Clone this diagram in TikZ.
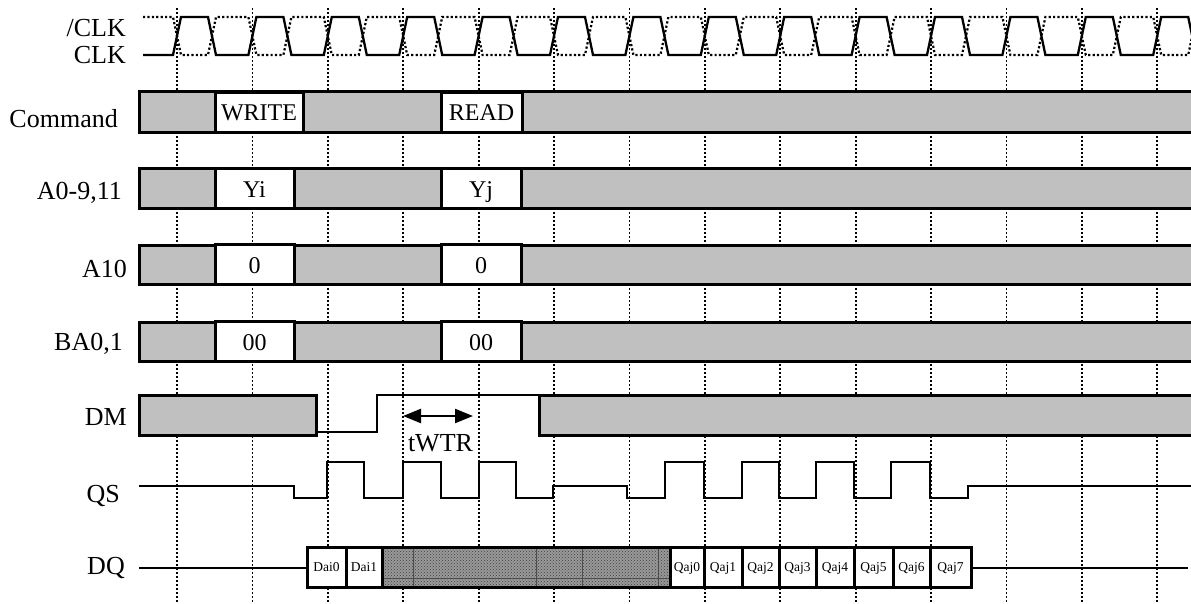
\documentclass[tikz,border=0pt]{standalone}
\usepackage{fontspec}
\setmainfont{Liberation Serif}
\usetikzlibrary{arrows.meta,patterns}
\definecolor{busGray}{RGB}{192,192,192}
\tikzset{
    sigLabel/.style={anchor=base east, inner sep=0pt, font=\fontsize{26}{30}\selectfont},
    valBox/.style={draw, line width=3pt, fill=white, minimum height=40pt, inner sep=0pt,
        text height=17pt, text depth=0pt, font=\fontsize{24}{28}\selectfont},
    dataBox/.style={draw, line width=3pt, fill=white, minimum height=40pt, inner sep=0pt,
        text height=9.5pt, text depth=0pt, font=\fontsize{13.5}{16}\selectfont},
    busFill/.style={draw, line width=3pt, fill=busGray},
    wave/.style={line width=2.3pt},
    clkGrid/.style={line width=1.8pt, dash pattern=on 1.8pt off 2.2pt},
    clkDots/.style={line width=2.2pt, dash pattern=on 2.2pt off 2.2pt},
}
\begin{document}
\begin{tikzpicture}[x=1pt,y=-1pt]
    \useasboundingbox (0,0) rectangle (1191,604);
    % rising edges of CLK
    \foreach \k in {0,...,13}
        \draw[clkGrid] ({177+75.4*\k},8) -- ({177+75.4*\k},604);
    \draw[clkDots] (143,17) foreach \k in {0,...,13} {
        -- ({173+75.4*\k},17) -- ({181+75.4*\k},55) -- ({208+75.4*\k},55) -- ({216+75.4*\k},17) };
    \draw[wave] (143,55) foreach \k in {0,...,13} {
        -- ({173+75.4*\k},55) -- ({181+75.4*\k},17) -- ({208+75.4*\k},17) -- ({216+75.4*\k},55) };

    \node[sigLabel] (lblClkBar) at (126,37) {/CLK};
    \node[sigLabel] (lblClk) at (126,64) {CLK};
    \node[sigLabel] (lblCmd) at (118,128) {Command};
    \node[sigLabel] (lblAddr) at (122,200) {A0-9,11};
    \node[sigLabel] (lblAten) at (127,277) {A10};
    \node[sigLabel] (lblBank) at (123,350) {BA0,1};
    \node[sigLabel] (lblDM) at (127,425) {DM};
    \node[sigLabel] (lblQS) at (120,502) {QS};
    \node[sigLabel] (lblDQ) at (125,574) {DQ};

    \draw[busFill] (139,92) rectangle (1200,133);
    \node[valBox, minimum width=88pt] (cmdWrite) at (259,112.5) {WRITE};
    \node[valBox, minimum width=81pt] (cmdRead) at (481.5,112.5) {READ};

    \draw[busFill] (139,169) rectangle (1200,209);
    \node[valBox, minimum width=79pt] (addrWrite) at (254.5,189) {Yi};
    \node[valBox, minimum width=80pt] (addrRead) at (481,189) {Yj};

    \draw[busFill] (139,245) rectangle (1200,284);
    \node[valBox, minimum width=79pt] (atenWrite) at (254.5,264.5) {0};
    \node[valBox, minimum width=80pt] (atenRead) at (481,264.5) {0};

    \draw[busFill] (139,322) rectangle (1200,361);
    \node[valBox, minimum width=79pt] (bankWrite) at (254.5,341.5) {00};
    \node[valBox, minimum width=80pt] (bankRead) at (481,341.5) {00};

    \draw[busFill] (139,395) rectangle (316,435);
    \draw[wave] (316,432) -- (377,432) -- (377,395) -- (539,395);
    \draw[busFill] (539,395) rectangle (1200,435);
    \coordinate (wtrStart) at (403,416);
    \coordinate (wtrEnd) at (473,416);
    \draw[wave, {Triangle[length=18pt,width=14pt]}-{Triangle[length=18pt,width=14pt]}] (wtrStart) -- (wtrEnd);
    \node[anchor=base, inner sep=0pt, font=\fontsize{26}{30}\selectfont] (lblWTR) at (440.5,451) {tWTR};

    \draw[wave] (139,486) -- (294,486) -- (294,498) -- (327,498) -- (327,462) -- (364,462)
        -- (364,498) -- (403,498) -- (403,462) -- (441,462) -- (441,498) -- (479,498)
        -- (479,462) -- (516,462) -- (516,498) -- (553,498) -- (553,486) -- (627,486)
        -- (627,498) -- (665,498) -- (665,462) -- (704,462) -- (704,498) -- (742,498)
        -- (742,462) -- (779,462) -- (779,498) -- (816,498) -- (816,462) -- (854,462)
        -- (854,498) -- (891,498) -- (891,462) -- (930,462) -- (930,498) -- (968,498)
        -- (968,486) -- (1191,486);

    \draw[wave] (139,568) -- (307,568);
    \fill[black!40] (382,547) rectangle (670,587);
    \fill[pattern=crosshatch dots, pattern color=black!75] (382,547) rectangle (670,587);
    \draw[line width=0.8pt, black!70] (413,547) -- (413,587) (536,547) -- (536,587)
        (582,547) -- (582,587) (658,547) -- (658,587) (382,578) -- (670,578);
    \draw[line width=3pt] (307,547) rectangle (971,587);
    \node[dataBox, minimum width=39pt] (dai0) at (326.5,567) {Dai0};
    \node[dataBox, minimum width=36pt] (dai1) at (364,567) {Dai1};
    \node[dataBox, minimum width=34pt] (qaj0) at (687,567) {Qaj0};
    \node[dataBox, minimum width=38pt] (qaj1) at (723,567) {Qaj1};
    \node[dataBox, minimum width=37pt] (qaj2) at (760.5,567) {Qaj2};
    \node[dataBox, minimum width=37pt] (qaj3) at (797.5,567) {Qaj3};
    \node[dataBox, minimum width=38pt] (qaj4) at (835,567) {Qaj4};
    \node[dataBox, minimum width=39pt] (qaj5) at (873.5,567) {Qaj5};
    \node[dataBox, minimum width=37pt] (qaj6) at (911.5,567) {Qaj6};
    \node[dataBox, minimum width=41pt] (qaj7) at (950.5,567) {Qaj7};
    \draw[wave] (qaj7.east |- 0,568) -- (1188,568);
\end{tikzpicture}
\end{document}
